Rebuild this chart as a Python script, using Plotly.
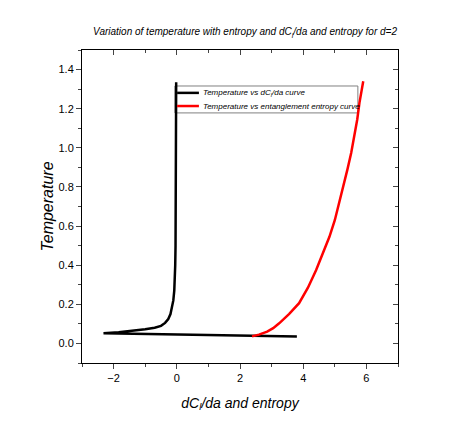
import plotly.graph_objects as go

# Temperature vs dC_l/da (parametric curve, traced from top down, left, then back right)
dcda = [-0.02, -0.02, -0.03, -0.04, -0.05, -0.06, -0.08, -0.11, -0.15, -0.20, -0.27,
        -0.37, -0.50, -0.70, -1.00, -1.40, -1.84, -2.32,
        -1.0, 0.0, 1.0, 2.0, 3.0, 3.8]
temp_dcda = [1.335, 1.0, 0.70, 0.50, 0.40, 0.33, 0.27, 0.22, 0.18, 0.15, 0.125,
             0.105, 0.09, 0.08, 0.072, 0.064, 0.057, 0.052,
             0.048, 0.046, 0.044, 0.041, 0.038, 0.036]

# Temperature vs entanglement entropy
entropy = [2.38, 2.60, 2.86, 3.05, 3.24, 3.55, 3.87, 4.15, 4.41, 4.63, 4.83, 5.00, 5.14,
           5.28, 5.40, 5.52, 5.62, 5.71, 5.78, 5.85, 5.90]
temp_entropy = [0.036, 0.045, 0.060, 0.078, 0.103, 0.150, 0.206, 0.285, 0.375, 0.46, 0.545,
                0.63, 0.72, 0.80, 0.89, 0.975, 1.06, 1.145, 1.23, 1.29, 1.34]

series_names = ["<i>Temperature vs dC<sub>l</sub>/da curve</i>",
                "<i>Temperature vs entanglement entropy curve</i>"]
series_colors = ["black", "red"]

x_range = [-3, 7]
y_range = [-0.1, 1.5]

FONT = "Liberation Sans, Arial, sans-serif"
NARROW = "Liberation Sans Narrow, " + FONT

fig = go.Figure()
fig.add_trace(go.Scatter(
    x=dcda, y=temp_dcda, mode="lines", line=dict(color=series_colors[0], width=2.5),
    name=series_names[0], showlegend=False))
fig.add_trace(go.Scatter(
    x=entropy, y=temp_entropy, mode="lines", line=dict(color=series_colors[1], width=2.5),
    name=series_names[1], showlegend=False))
# dummy trace to activate mirrored axes (inside ticks on top/right)
fig.add_trace(go.Scatter(x=[None], y=[None], xaxis="x2", yaxis="y2", showlegend=False, hoverinfo="skip"))

# compact legend box drawn in paper coordinates
box_x0, box_x1, box_y0, box_y1 = 0.294, 0.873, 0.799, 0.885
row_y = [0.863, 0.821]
shapes = [dict(type="rect", xref="paper", yref="paper", x0=box_x0, x1=box_x1, y0=box_y0, y1=box_y1,
               line=dict(color="gray", width=1), fillcolor="rgba(0,0,0,0)", layer="below")]
annotations = []
for name, color, yy in zip(series_names, series_colors, row_y):
    shapes.append(dict(type="line", xref="paper", yref="paper", x0=0.301, x1=0.370, y0=yy, y1=yy,
                       line=dict(color=color, width=2.5)))
    annotations.append(dict(text=name, xref="paper", yref="paper", x=0.376, y=yy,
                            xanchor="left", yanchor="middle", showarrow=False,
                            font=dict(family=NARROW, size=8, color="black")))

axis_common = dict(showgrid=False, zeroline=False, showline=True, linecolor="black", linewidth=1,
                   automargin=False)

fig.update_layout(
    width=463, height=436,
    margin=dict(l=74, r=73, t=42, b=81, autoexpand=False),
    paper_bgcolor="white", plot_bgcolor="white",
    font=dict(family=FONT, color="black"),
    title=dict(text="<i>Variation of temperature with entropy and dC<sub>l</sub>/da and entropy for d=2</i>",
               x=0.512, xanchor="center", y=0.945, yanchor="middle",
               font=dict(family=NARROW, size=10)),
    xaxis=dict(range=x_range, tick0=0, dtick=2, ticks="outside", ticklen=5, tickwidth=1,
               minor=dict(dtick=1, ticks="outside", ticklen=3),
               tickfont=dict(size=11),
               title=dict(text="<i>dC<sub>l</sub>/da and entropy</i>", font=dict(size=14), standoff=14),
               **axis_common),
    yaxis=dict(range=y_range, tick0=0, dtick=0.2, tickformat=".1f", ticks="outside", ticklen=5, tickwidth=1,
               minor=dict(dtick=0.1, ticks="outside", ticklen=3),
               tickfont=dict(size=11),
               title=dict(text="<i>Temperature</i>", font=dict(size=16), standoff=0),
               **axis_common),
    xaxis2=dict(range=x_range, overlaying="x", side="top", anchor="y", tick0=0, dtick=2,
                ticks="inside", ticklen=5, showticklabels=False,
                minor=dict(dtick=1, ticks="inside", ticklen=3), **axis_common),
    yaxis2=dict(range=y_range, overlaying="y", side="right", anchor="x", tick0=0, dtick=0.2,
                ticks="inside", ticklen=5, showticklabels=False,
                minor=dict(dtick=0.1, ticks="inside", ticklen=3), **axis_common),
    shapes=shapes,
    annotations=annotations,
    showlegend=False,
)

fig.write_html("out.html")
